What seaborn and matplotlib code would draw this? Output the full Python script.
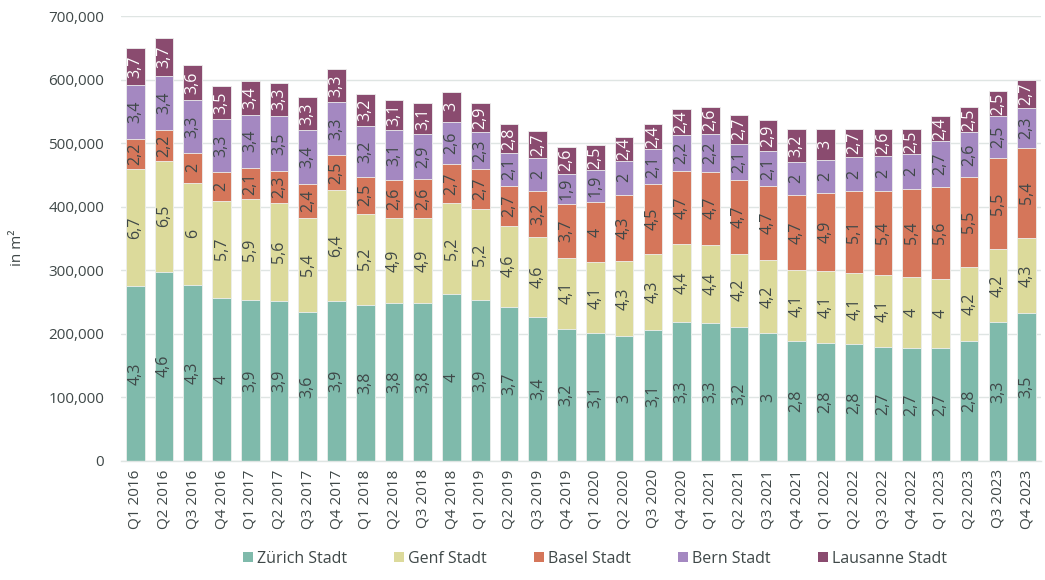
import numpy as np
import pandas as pd
import matplotlib
matplotlib.use("Agg")
import matplotlib.pyplot as plt
from matplotlib.patches import Patch
from matplotlib.ticker import FuncFormatter
import seaborn as sns

quarters = [f"Q{q} {y}" for y in range(2016, 2024) for q in range(1, 5)]

series_names = ["Zürich Stadt", "Genf Stadt", "Basel Stadt", "Bern Stadt", "Lausanne Stadt"]

zuerich = [275, 298, 277, 257, 253, 251, 234, 251, 246, 249, 249, 263, 253, 243, 226, 208,
           201, 196, 206, 218, 217, 211, 201, 188, 186, 184, 180, 178, 177, 189, 218, 233]
genf = [184, 174, 161, 152, 159, 155, 148, 175, 143, 133, 133, 143, 143, 127, 126, 112,
        112, 119, 120, 123, 123, 115, 115, 113, 113, 112, 113, 112, 110, 116, 116, 118]
basel = [48, 49, 46, 46, 49, 50, 54, 56, 58, 60, 61, 61, 63, 63, 73, 85,
         94, 104, 109, 115, 115, 116, 116, 117, 122, 128, 132, 138, 144, 142, 142, 141]
bern = [85, 85, 84, 83, 84, 87, 84, 82, 80, 78, 72, 66, 58, 52, 51, 47,
        51, 53, 56, 57, 60, 57, 56, 53, 53, 54, 55, 55, 73, 70, 67, 63]
lausanne = [57, 59, 55, 52, 52, 52, 52, 52, 51, 48, 48, 48, 46, 45, 43, 42,
            39, 37, 39, 41, 42, 46, 48, 51, 49, 45, 42, 39, 38, 40, 39, 44]

# rates shown inside the segments (in %)
rate_zuerich = [4.3, 4.6, 4.3, 4, 3.9, 3.9, 3.6, 3.9, 3.8, 3.8, 3.8, 4, 3.9, 3.7, 3.4, 3.2,
                3.1, 3, 3.1, 3.3, 3.3, 3.2, 3, 2.8, 2.8, 2.8, 2.7, 2.7, 2.7, 2.8, 3.3, 3.5]
rate_genf = [6.7, 6.5, 6, 5.7, 5.9, 5.6, 5.4, 6.4, 5.2, 4.9, 4.9, 5.2, 5.2, 4.6, 4.6, 4.1,
             4.1, 4.3, 4.3, 4.4, 4.4, 4.2, 4.2, 4.1, 4.1, 4.1, 4.1, 4, 4, 4.2, 4.2, 4.3]
rate_basel = [2.2, 2.2, 2, 2, 2.1, 2.3, 2.4, 2.5, 2.5, 2.6, 2.6, 2.7, 2.7, 2.7, 3.2, 3.7,
              4, 4.3, 4.5, 4.7, 4.7, 4.7, 4.7, 4.7, 4.9, 5.1, 5.4, 5.4, 5.6, 5.5, 5.5, 5.4]
rate_bern = [3.4, 3.4, 3.3, 3.3, 3.4, 3.5, 3.4, 3.3, 3.2, 3.1, 2.9, 2.6, 2.3, 2.1, 2, 1.9,
             1.9, 2, 2.1, 2.2, 2.2, 2.1, 2.1, 2, 2, 2, 2, 2, 2.7, 2.6, 2.5, 2.3]
rate_lausanne = [3.7, 3.7, 3.6, 3.5, 3.4, 3.3, 3.3, 3.3, 3.2, 3.1, 3.1, 3, 2.9, 2.8, 2.7, 2.6,
                 2.5, 2.4, 2.4, 2.4, 2.6, 2.7, 2.9, 3.2, 3, 2.7, 2.6, 2.5, 2.4, 2.5, 2.5, 2.7]

colors = ["#7fbaab", "#dcda9b", "#d5765a", "#a488c1", "#8a4b6f"]
label_colors = ["#3f4848", "#3f4848", "#3f4848", "#3f4848", "#ffffff"]

values = [np.array(v) * 1000 for v in (zuerich, genf, basel, bern, lausanne)]
rates = [rate_zuerich, rate_genf, rate_basel, rate_bern, rate_lausanne]

sns.set_theme(style="white")
plt.rcParams["font.family"] = ["Open Sans", "DejaVu Sans"]

fig = plt.figure(figsize=(10.45, 5.8), dpi=100)
ax = fig.add_axes([0.1157, 0.2052, 0.8805, 0.7672])

cum = np.cumsum(np.vstack(values), axis=0)
df = pd.DataFrame({"quarter": quarters})
for k in range(4, -1, -1):
    df["cum"] = cum[k]
    sns.barplot(data=df, x="quarter", y="cum", color=colors[k], width=0.65,
                errorbar=None, saturation=1, edgecolor="#eef0ef", linewidth=0.6,
                ax=ax, zorder=2)

# labels at segment centres
for k in range(5):
    bottoms = cum[k] - values[k]
    for i in range(len(quarters)):
        mid = bottoms[i] + values[k][i] / 2
        txt = f"{rates[k][i]:g}".replace(".", ",")
        ax.text(i, mid, txt, rotation=90, ha="center", va="center",
                fontsize=11.5, color=label_colors[k], zorder=3)

ax.set_ylim(0, 700000)
ax.set_xlim(-0.5, len(quarters) - 0.5)
ax.yaxis.set_major_formatter(FuncFormatter(lambda v, p: f"{v:,.0f}"))
ax.set_yticks(np.arange(0, 700001, 100000))
ax.yaxis.grid(True, color="#dfe5e3", linewidth=1, zorder=0)
ax.set_axisbelow(True)
for s in ["top", "right", "left"]:
    ax.spines[s].set_visible(False)
ax.spines["bottom"].set_color("#dfe5e3")
ax.spines["bottom"].set_linewidth(1)
ax.set_xlabel("")
ax.set_ylabel("in m²", fontsize=11, color="#3f4848")
ax.yaxis.set_label_coords(-0.104, 0.479)
ax.tick_params(axis="y", labelsize=11, colors="#3f4848", length=0, pad=12)
ax.tick_params(axis="x", labelsize=11, colors="#3f4848", length=0, pad=6, rotation=90)

handles = [Patch(facecolor=c, edgecolor="none", label=n) for c, n in zip(colors, series_names)]
fig.legend(handles=handles, loc="center", bbox_to_anchor=(0.569, 0.037), ncol=5,
           frameon=False, fontsize=11.5, handlelength=0.66, handleheight=0.66,
           handletextpad=0.22, columnspacing=2.95, labelcolor="#3f4848")

fig.savefig("out.png", dpi=100)
